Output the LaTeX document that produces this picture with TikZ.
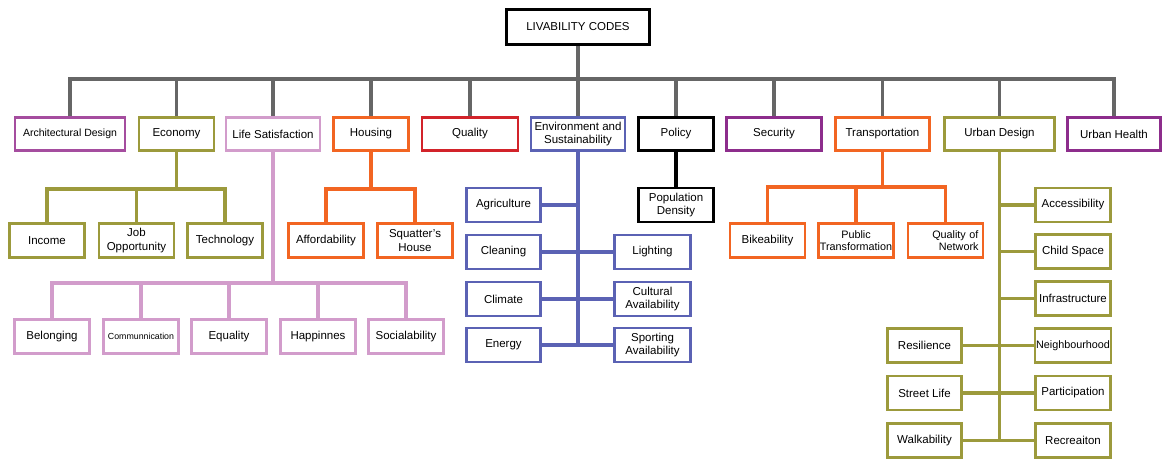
\documentclass[tikz,border=0pt]{standalone}
\usepackage{fontspec}
\setmainfont{Liberation Sans}
\definecolor{cgray}{HTML}{666666}
\definecolor{cpurp}{HTML}{A54D9F}
\definecolor{cdpurp}{HTML}{8D2D8C}
\definecolor{colive}{HTML}{9C9A3C}
\definecolor{cpink}{HTML}{D29CCB}
\definecolor{corange}{HTML}{F26522}
\definecolor{cred}{HTML}{D2232A}
\definecolor{cblue}{HTML}{5B62B4}
\tikzset{
  box/.style={draw=#1, line width=2.8pt, fill=white, align=center, inner sep=1pt,
    minimum height=34pt, font=\fontsize{11.5}{13.5}\selectfont},
  conn/.style={draw=#1, line width=3.3pt},
  smallfont/.style={font=\fontsize{10.8}{12.5}\selectfont},
}
\begin{document}
\begin{tikzpicture}[x=1pt,y=-1pt]
\useasboundingbox (0,0) rectangle (1163,459);
% root
\node[box=black, minimum width=143pt, minimum height=35pt, line width=3.2pt] (root) at (578,27) {LIVABILITY CODES};
% level 1
\node[box=cpurp, minimum width=110pt, minimum height=33.5pt, font=\fontsize{10.5}{12.5}\selectfont] (arch) at (70,134) {Architectural Design};
\node[box=colive, minimum width=75pt, minimum height=33.5pt] (econ) at (176.5,134) {Economy};
\node[box=cpink, minimum width=94pt, minimum height=33.5pt] (life) at (273,134) {Life Satisfaction};
\node[box=corange, minimum width=75pt, minimum height=33.5pt] (housing) at (371,134) {Housing};
\node[box=cred, minimum width=96pt, minimum height=33.5pt] (quality) at (470,134) {Quality};
\node[box=cblue, minimum width=94pt, minimum height=33.5pt] (env) at (578,134) {Environment and\\Sustainability};
\node[box=black, minimum width=75pt, minimum height=33.5pt] (policy) at (676,134) {Policy};
\node[box=cdpurp, minimum width=95pt, minimum height=33.5pt] (security) at (774,134) {Security};
\node[box=corange, minimum width=94pt, minimum height=33.5pt] (transp) at (882.5,134) {Transportation};
\node[box=colive, minimum width=110pt, minimum height=33.5pt] (urbdes) at (999.5,134) {Urban Design};
\node[box=cdpurp, minimum width=93pt, minimum height=33.5pt] (urbhealth) at (1114,134) {Urban Health};
% bus
\coordinate (bus) at (578,79);
\draw[conn=cgray] (root) -- (bus);
\foreach \n in {arch,econ,life,housing,quality,env,policy,security,transp,urbdes,urbhealth}
  \draw[conn=cgray] (\n.north) |- (bus);
% economy
\node[box=colive, minimum width=75pt] (income) at (47,240.5) {Income};
\node[box=colive, minimum width=75pt] (job) at (136.5,240.5) {Job\\Opportunity};
\node[box=colive, minimum width=75pt] (tech) at (225,240.5) {Technology};
\coordinate (econbar) at (176.5,189);
\draw[conn=colive] (econ) -- (econbar);
\foreach \n in {income,job,tech} \draw[conn=colive] (\n.north) |- (econbar);
% housing
\node[box=corange, minimum width=75pt] (afford) at (326,240.5) {Affordability};
\node[box=corange, minimum width=75pt] (squat) at (415,240.5) {Squatter's\\House};
\coordinate (housebar) at (371,189);
\draw[conn=corange] (housing) -- (housebar);
\foreach \n in {afford,squat} \draw[conn=corange] (\n.north) |- (housebar);
% life satisfaction
\node[box=cpink, minimum width=75pt] (belong) at (52,336.5) {Belonging};
\node[box=cpink, minimum width=75pt, font=\fontsize{8.8}{10}\selectfont] (comm) at (141,336.5) {Communnication};
\node[box=cpink, minimum width=75pt] (equal) at (229,336.5) {Equality};
\node[box=cpink, minimum width=75pt] (happ) at (318,336.5) {Happinnes};
\node[box=cpink, minimum width=75pt] (social) at (406,336.5) {Socialability};
\coordinate (lifebar) at (273,283);
\draw[conn=cpink] (life) -- (lifebar);
\foreach \n in {belong,comm,equal,happ,social} \draw[conn=cpink] (\n.north) |- (lifebar);
% environment
\node[box=cblue, minimum width=74pt] (agri) at (503.5,205) {Agriculture};
\node[box=cblue, minimum width=74pt] (cleaning) at (503.5,252) {Cleaning};
\node[box=cblue, minimum width=74pt] (climate) at (503.5,299) {Climate};
\node[box=cblue, minimum width=74pt] (energy) at (503.5,345) {Energy};
\node[box=cblue, minimum width=76pt] (lighting) at (652.5,252) {Lighting};
\node[box=cblue, minimum width=76pt] (cultural) at (652.5,299) {Cultural\\Availability};
\node[box=cblue, minimum width=76pt] (sporting) at (652.5,345) {Sporting\\Availability};
\draw[conn=cblue] (env) -- (env |- energy);
\draw[conn=cblue] (agri) -- (agri -| env);
\draw[conn=cblue] (cleaning) -- (lighting);
\draw[conn=cblue] (climate) -- (cultural);
\draw[conn=cblue] (energy) -- (sporting);
% policy
\node[box=black, minimum width=75pt] (popden) at (676,205) {Population\\Density};
\draw[conn=black] (policy) -- (popden);
% transportation
\node[box=corange, minimum width=75pt] (bike) at (767.5,240.5) {Bikeability};
\node[box=corange, minimum width=75pt, smallfont] (public) at (856,240.5) {Public\\Transformation};
\node[box=corange, minimum width=75pt, smallfont, text width=66pt, align=right] (qnet) at (945.5,240.5) {Quality of\\Network};
\coordinate (transbar) at (882.5,187);
\draw[conn=corange] (transp) -- (transbar);
\foreach \n in {bike,public,qnet} \draw[conn=corange] (\n.north) |- (transbar);
% urban design
\node[box=colive, minimum width=75pt] (access) at (1073,205) {Accessibility};
\node[box=colive, minimum width=75pt] (child) at (1073,251.5) {Child Space};
\node[box=colive, minimum width=75pt] (infra) at (1073,298.5) {Infrastructure};
\node[box=colive, minimum width=75pt, smallfont] (neigh) at (1073,345.5) {Neighbourhood};
\node[box=colive, minimum width=75pt] (partic) at (1073,393) {Participation};
\node[box=colive, minimum width=75pt] (recre) at (1073,440.5) {Recreaiton};
\node[box=colive, minimum width=74pt] (resil) at (924.5,345.5) {Resilience};
\node[box=colive, minimum width=74pt] (street) at (924.5,393) {Street Life};
\node[box=colive, minimum width=74pt] (walk) at (924.5,440.5) {Walkability};
\draw[conn=colive] (urbdes) -- (urbdes |- recre);
\draw[conn=colive] (access) -- (access -| urbdes);
\draw[conn=colive] (child) -- (child -| urbdes);
\draw[conn=colive] (infra) -- (infra -| urbdes);
\draw[conn=colive] (resil) -- (neigh);
\draw[conn=colive] (street) -- (partic);
\draw[conn=colive] (walk) -- (recre);
\end{tikzpicture}
\end{document}
